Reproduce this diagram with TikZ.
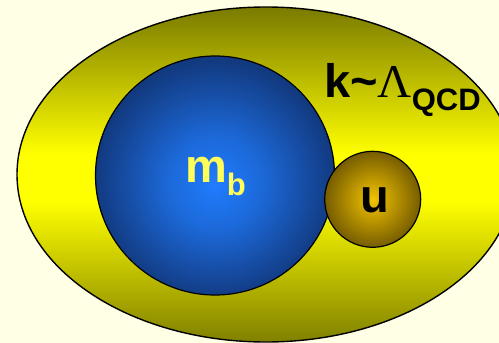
\documentclass[tikz,border=0pt]{standalone}
\usepackage{fontspec}
\setmainfont{Liberation Sans}
\newfontfamily\lamfont{Liberation Serif}
\definecolor{bgc}{RGB}{255,255,230}
\definecolor{oliveA}{RGB}{122,122,0}
\definecolor{oliveB}{RGB}{128,128,0}
\definecolor{yel}{RGB}{255,255,0}
\definecolor{blueIn}{RGB}{32,124,255}
\definecolor{blueMid}{RGB}{28,104,215}
\definecolor{blueOut}{RGB}{18,58,128}
\definecolor{goldIn}{RGB}{242,196,0}
\definecolor{goldOut}{RGB}{118,92,0}
\definecolor{txtyel}{RGB}{255,255,90}
\pgfdeclareradialshading{blueball}{\pgfpoint{0bp}{-2bp}}{color(0bp)=(blueIn); color(10bp)=(blueMid); color(25bp)=(blueOut); color(50bp)=(blueOut)}
\pgfdeclareverticalshading{yelband}{100bp}{color(0bp)=(oliveB); color(25bp)=(oliveB); color(46bp)=(yel); color(53bp)=(yel); color(75bp)=(oliveA); color(100bp)=(oliveA)}
\tikzset{
  outline/.style={draw=black, line width=1.4pt},
  bigtxt/.style={font=\fontsize{47}{47}\selectfont\bfseries, inner sep=0pt, anchor=base west},
}
\begin{document}
\begin{tikzpicture}[x=1pt,y=-1pt]
\useasboundingbox (0,0) rectangle (499,343);
\fill[bgc] (0,0) rectangle (499,343);
\begin{scope}
\clip (0,0) rectangle (499,343);
\shade[shading=yelband, outline]
  (266,174.5) ellipse [x radius=249pt, y radius=167.5pt];
\end{scope}
\shade[shading=blueball, outline, line width=1.2pt]
  (215,175.5) circle [radius=119.5pt];
\shade[inner color=goldIn, outer color=goldOut, outline, line width=1.2pt]
  (372.7,199.3) circle [radius=48pt];
\node[bigtxt] (k) at (324,97) {k\textasciitilde{\lamfont\mdseries Λ}\raisebox{-13pt}{\fontsize{31}{31}\selectfont QCD}};
\node[bigtxt, text=txtyel] (mb) at (185,182) {m\raisebox{-13pt}{\fontsize{31}{31}\selectfont b}};
\node[bigtxt, anchor=base] (u) at (375,212) {u};
\end{tikzpicture}
\end{document}
